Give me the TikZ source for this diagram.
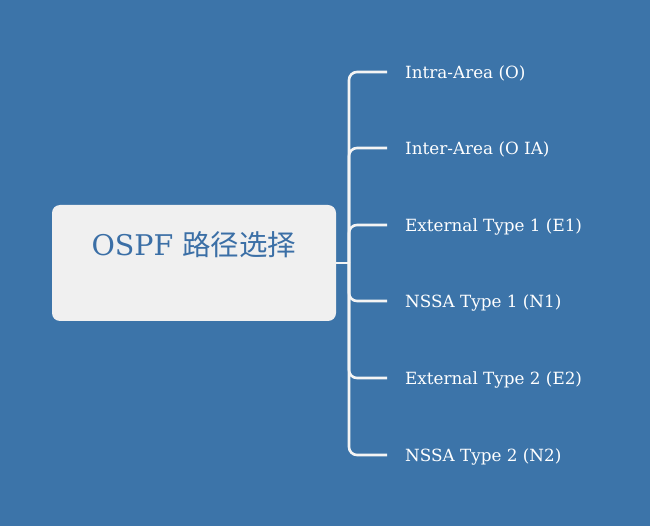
\documentclass[tikz,border=0pt]{standalone}
\usepackage{fontspec}
\setmainfont{DejaVu Serif}
\newfontfamily\cjk{Noto Sans CJK SC}
\definecolor{bg}{HTML}{3C74A9}
\definecolor{boxfill}{HTML}{F0F0F0}
\definecolor{titleblue}{HTML}{3B6FA6}
\definecolor{linew}{HTML}{F4F4F4}
\tikzset{
  rootbox/.style={draw=none, fill=boxfill, rounded corners=8pt, minimum width=284pt, minimum height=116pt, inner sep=0pt},
  leaf/.style={anchor=west, inner sep=0pt, text=white, font=\fontsize{16.8}{19}\selectfont},
  branch/.style={draw=linew, line width=2.6pt, rounded corners=8pt},
}
\begin{document}
\begin{tikzpicture}[x=1pt,y=-1pt]
\useasboundingbox[fill=bg] (0,0) rectangle (650,526);
\node[rootbox] (root) at (194,263) {};
\node[inner sep=0pt, text=titleblue, font=\fontsize{28.5}{32}\selectfont] (title) at (194,245) {OSPF {\cjk 路径选择}};
\coordinate (j) at (349,263);
\node[leaf] (l1) at (405,73.5) {Intra-Area (O)};
\node[leaf] (l2) at (405,149.5) {Inter-Area (O IA)};
\node[leaf] (l3) at (405,226.5) {External Type 1 (E1)};
\node[leaf] (l4) at (405,302.5) {NSSA Type 1 (N1)};
\node[leaf] (l5) at (405,379.5) {External Type 2 (E2)};
\node[leaf] (l6) at (405,456.5) {NSSA Type 2 (N2)};
\coordinate (b1) at (387,72);
\coordinate (b2) at (387,148);
\coordinate (b3) at (387,225);
\coordinate (b4) at (387,301);
\coordinate (b5) at (387,378);
\coordinate (b6) at (387,455);
\draw[branch] (root.east) -- (j);
\foreach \n in {b1,b2,b3,b4,b5,b6}{
  \draw[branch] (j) |- (\n);
}
\end{tikzpicture}
\end{document}
